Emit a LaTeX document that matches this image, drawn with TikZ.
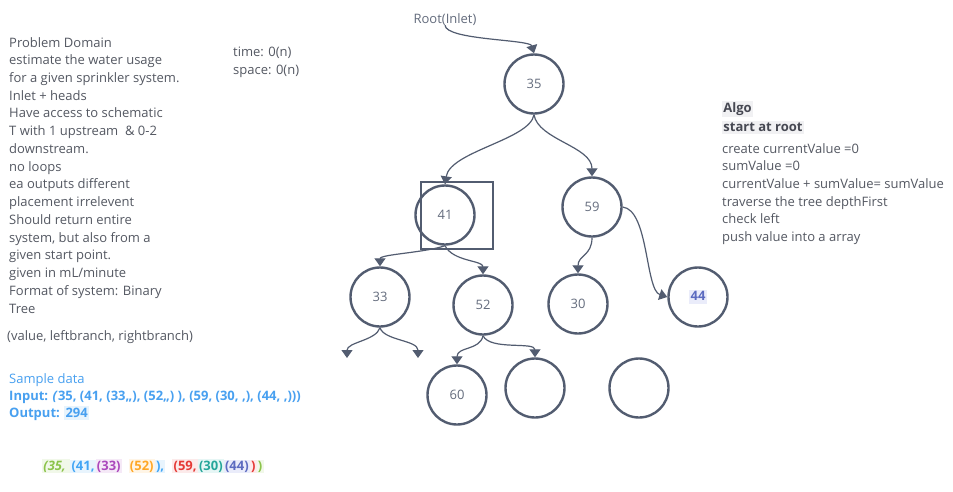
\documentclass[tikz,border=0pt]{standalone}
\usepackage{fontspec}
\setmainfont{Open Sans}
\usetikzlibrary{arrows.meta}
\definecolor{ink}{RGB}{82,92,112}
\definecolor{numcol}{RGB}{100,108,125}
\definecolor{txtcol}{RGB}{84,88,98}
\definecolor{sblue}{RGB}{72,160,240}
\definecolor{sbluebg}{RGB}{232,244,253}
\definecolor{algobg}{RGB}{241,241,243}
\definecolor{algofg}{RGB}{70,72,82}
\definecolor{gfg}{RGB}{139,195,74}\definecolor{gbg}{RGB}{241,248,233}
\definecolor{bfg}{RGB}{66,165,245}\definecolor{bbg}{RGB}{232,244,253}
\definecolor{pfg}{RGB}{171,71,188}\definecolor{pbg}{RGB}{245,233,247}
\definecolor{ofg}{RGB}{255,167,38}\definecolor{obg}{RGB}{255,245,230}
\definecolor{rfg}{RGB}{229,57,53}\definecolor{rbg}{RGB}{252,234,234}
\definecolor{tfg}{RGB}{38,166,154}\definecolor{tbg}{RGB}{230,246,245}
\definecolor{ifg}{RGB}{92,107,192}\definecolor{ibg}{RGB}{234,236,250}
\newcommand\hlt[3]{\begingroup\setlength{\fboxsep}{1.2pt}\colorbox{#1}{\textcolor{#2}{\vphantom{()}#3}}\endgroup}
\begin{document}
\begin{tikzpicture}[x=1pt,y=-1pt,
  tnode/.style={circle, draw=ink, line width=2.4pt, minimum size=59pt, inner sep=0pt, text=numcol, font=\fontsize{13}{16}\selectfont},
  conn/.style={draw=ink, line width=1.2pt, -{Triangle[width=11pt,length=8pt]}},
  txt/.style={anchor=base west, inner sep=0pt, align=left, text=txtcol, font=\fontsize{13}{17.73}\selectfont}]
\fill[white] (0,0) rectangle (953,491);
\useasboundingbox (0,0) rectangle (953,491);

% left texts (anchor base = baseline of last line)
\node[txt] (pd) at (9,313) {Problem Domain\\estimate the water usage\\for a given sprinkler system.\\Inlet + heads\\Have access to schematic\\T with 1 upstream\ \ \& 0-2\\downstream.\\no loops\\ea outputs different\\placement irrelevent\\Should return entire\\system, but also from a\\given start point.\\given in mL/minute\\Format of system: Binary\\Tree};
\node[txt] (vlr) at (7,340) {(value, leftbranch, rightbranch)};
\node[txt] (cx) at (233,74.5) {time: 0(n)\\space: 0(n)};
\node[txt, text=sblue, font=\fontsize{13}{17}\selectfont] (sd) at (9,417) {Sample data\\\textbf{Input: \textit{(}35, (41, (33,,), (52,,) ), (59, (30, ,), (44, ,)))}\\\textbf{Output: \hlt{sbluebg}{sblue}{294}}};
\node[txt, font=\fontsize{13}{17.73}\selectfont\bfseries] (col) at (42,470) {\hlt{gbg}{gfg}{\textit{(35,}\ }\hlt{bbg}{bfg}{(41,}\hlt{pbg}{pfg}{(33)}\hspace{7pt}\hlt{obg}{ofg}{(52)}\hlt{bbg}{bfg}{),}\hspace{7pt}\hlt{rbg}{rfg}{(59,}\hlt{tbg}{tfg}{(30)}\hlt{ibg}{ifg}{(44)}\hlt{rbg}{rfg}{)}\hlt{gbg}{gfg}{)}};

% algo
\node[txt, text=algofg, font=\fontsize{13}{18.5}\selectfont\bfseries] (algo) at (722,131) {\hlt{algobg}{algofg}{Algo}\\\hlt{algobg}{algofg}{start at root}};
\node[txt] (steps) at (722,241.7) {create currentValue =0\\sumValue =0\\currentValue + sumValue= sumValue\\traverse the tree depthFirst\\check left\\push value into a array};

% tree
\node[txt, anchor=base, text=numcol] (root) at (445,23) {Root(Inlet)};
\node[tnode] (n35) at (534,84) {35};
\node[tnode] (n41) at (445,215) {41};
\node[tnode] (n59) at (592,207) {59};
\node[tnode] (n33) at (380,297) {33};
\node[tnode] (n52) at (483,305) {52};
\node[tnode] (n30) at (578,304) {30};
\node[tnode] (n44) at (698,297) {\hlt{ibg}{ifg}{\bfseries 44}};
\node[tnode] (n60) at (457,395) {60};
\node[tnode] (e1) at (535,388) {};
\node[tnode] (e2) at (639,388) {};
\draw[ink, line width=2.4pt] (421,182) rectangle (493,249);
\coordinate (l33) at (347,358);
\coordinate (r33) at (418,358);

\draw[conn] (root.south) .. controls +(1,15) and +(-4,-14) .. (n35.north);
\draw[conn] (n35.south) .. controls +(-4,25) and +(5,-33) .. (n41.north);
\draw[conn] (n35.south) .. controls +(4,25) and +(0,-30) .. (n59.north);
\draw[conn] (n41.south) .. controls +(-20,7) and +(0,-12) .. (n33.north);
\draw[conn] (n41.south) .. controls +(8,16) and +(0,-14) .. (n52.north);
\draw[conn] (n59.south) .. controls +(0,18) and +(0,-18) .. (n30.north);
\draw[conn] (n59.east) .. controls +(26,3) and +(-22,-7) .. (n44.west);
\draw[conn] (n33.south) .. controls +(-4,13) and +(0,-16) .. (l33);
\draw[conn] (n33.south) .. controls +(4,13) and +(0,-18) .. (r33);
\draw[conn] (n52.south) .. controls +(-3,15) and +(0,-18) .. (n60.north);
\draw[conn] (n52.south) .. controls +(7,15) and +(0,-16) .. (e1.north);
\end{tikzpicture}
\end{document}
